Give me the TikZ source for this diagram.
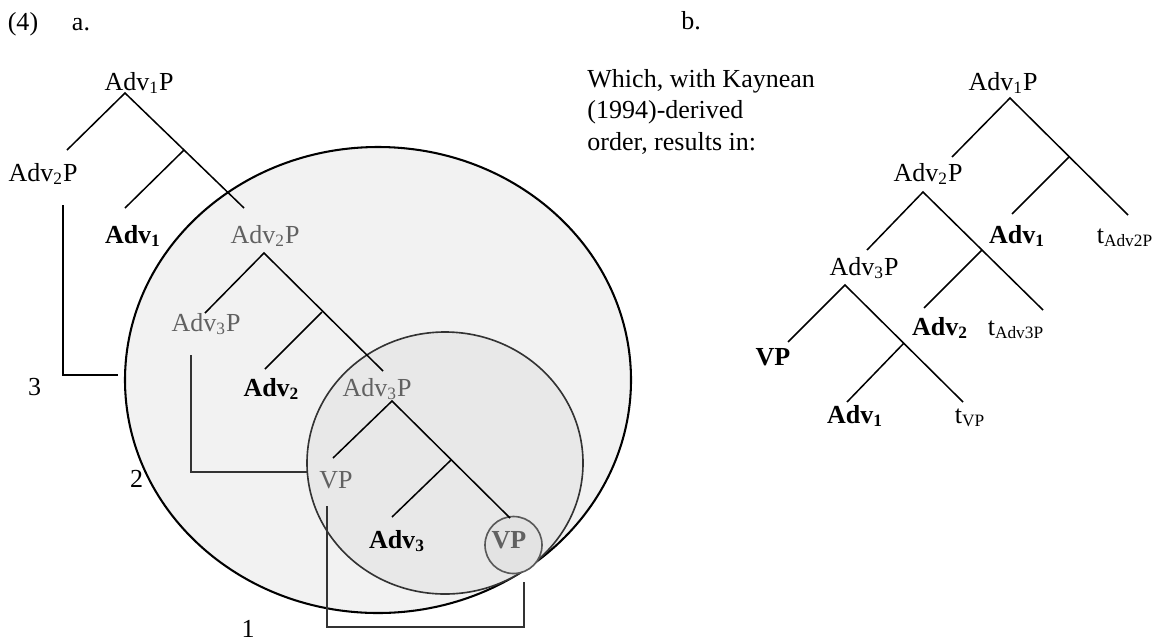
\documentclass[tikz,border=0pt]{standalone}
\usepackage{fontspec}
\setmainfont{Liberation Serif}
\usepackage{tikz}

\tikzset{
    lbl/.style={font=\fontsize{12}{14}\selectfont, inner sep=0pt, anchor=base},
    moved/.style={lbl, text=black!62},
    head/.style={lbl, font=\fontsize{12}{14}\selectfont\bfseries},
    movedhead/.style={head, text=black!62},
    branch/.style={line width=0.7pt},
    chain/.style={line width=0.7pt, draw=black!80},
}

\begin{document}
\begin{tikzpicture}[x=0.4615pt, y=-0.4615pt]
    \useasboundingbox (0,0) rectangle (1156,642);

    % Example number
    \node[lbl] (num) at (23,30) {(4)};
    \node[lbl] (parta) at (81,30) {a.};
    \node[lbl] (partb) at (691,29) {b.};

    % Movement domains
    \draw[line width=0.95pt, fill=black!5] (378,380) ellipse [x radius=253, y radius=233];
    \draw[line width=0.75pt, draw=black!80, fill=black!9] (445,463) ellipse [x radius=138, y radius=131];
    \draw[line width=0.75pt, draw=black!65, fill=black!11] (513.5,545) circle [radius=28.5];

    % Tree a: labels
    \node[lbl] (la-top) at (139,90) {Adv\textsubscript{1}P};
    \node[lbl] (la-spec) at (43,181) {Adv\textsubscript{2}P};
    \node[head] (la-adv1) at (133,243) {Adv\textsubscript{1}};
    \node[moved] (la-adv2p) at (265,243) {Adv\textsubscript{2}P};
    \node[moved] (la-adv3p) at (206,331) {Adv\textsubscript{3}P};
    \node[head] (la-adv2) at (271.5,396) {Adv\textsubscript{2}};
    \node[moved] (la-adv3pb) at (377,396) {Adv\textsubscript{3}P};
    \node[moved] (la-vp) at (336,488) {VP};
    \node[head] (la-adv3) at (397,548) {Adv\textsubscript{3}};
    \node[movedhead] (la-vpb) at (509,548) {VP};

    % Tree a: branch points
    \coordinate (la) at (125,93);
    \coordinate (la-l) at (67,150);
    \coordinate (la-j) at (184,150);
    \coordinate (la-r) at (244,208);
    \coordinate (la-m) at (125,208);
    \coordinate (lb) at (264,253);
    \coordinate (lb-l) at (205,313);
    \coordinate (lb-j) at (322,312);
    \coordinate (lb-r) at (383,371);
    \coordinate (lb-m) at (265,369);
    \coordinate (lc) at (392,401);
    \coordinate (lc-l) at (333,458);
    \coordinate (lc-j) at (451,460);
    \coordinate (lc-r) at (510,518);
    \coordinate (lc-m) at (392,517);

    % Tree a: branches
    \draw[branch] (la-l) -- (la) -- (la-r);
    \draw[branch] (la-j) -- (la-m);
    \draw[branch] (lb-l) -- (lb) -- (lb-r);
    \draw[branch] (lb-j) -- (lb-m);
    \draw[branch] (lc-l) -- (lc) -- (lc-r);
    \draw[branch] (lc-j) -- (lc-m);

    % Movement chains
    \coordinate (m3a) at (63,205);
    \coordinate (m3b) at (63,375);
    \coordinate (m3c) at (118,375);
    \coordinate (m2a) at (191,355);
    \coordinate (m2b) at (191,472);
    \coordinate (m2c) at (307,472);
    \coordinate (m1a) at (327,506);
    \coordinate (m1b) at (327,627);
    \coordinate (m1c) at (524,627);
    \coordinate (m1d) at (524,582);
    \draw[branch] (m3a) -- (m3b) -- (m3c);
    \draw[chain] (m2a) -- (m2b) -- (m2c);
    \draw[chain] (m1a) -- (m1b) -- (m1c) -- (m1d);
    \node[lbl] (step3) at (34.5,395) {3};
    \node[lbl] (step2) at (136.5,487) {2};
    \node[lbl] (step1) at (248,637) {1};

    % Tree b
    \node[lbl, anchor=base west] (kay1) at (587,87) {Which, with Kaynean};
    \node[lbl, anchor=base west] (kay2) at (587,118.5) {(1994)-derived};
    \node[lbl, anchor=base west] (kay3) at (587,150) {order, results in:};

    \node[lbl] (rb-top) at (1003,90) {Adv\textsubscript{1}P};
    \node[lbl] (rb-adv2p) at (928,181) {Adv\textsubscript{2}P};
    \node[head] (rb-adv1) at (1017,243) {Adv\textsubscript{1}};
    \node[lbl] (rb-t2) at (1125,243) {t\textsubscript{Adv2P}};
    \node[lbl] (rb-adv3p) at (864,275) {Adv\textsubscript{3}P};
    \node[head] (rb-adv2) at (940,335) {Adv\textsubscript{2}};
    \node[lbl] (rb-t3) at (1016,335) {t\textsubscript{Adv3P}};
    \node[head] (rb-vp) at (773,365) {VP};
    \node[head] (rb-adv1b) at (855,423) {Adv\textsubscript{1}};
    \node[lbl] (rb-tvp) at (970,423) {t\textsubscript{VP}};

    \coordinate (ra) at (1010,98);
    \coordinate (ra-l) at (952,157);
    \coordinate (ra-j) at (1069,157);
    \coordinate (ra-r) at (1128,215);
    \coordinate (ra-m) at (1012,214);
    \coordinate (rb) at (923,192);
    \coordinate (rb-l) at (867,250);
    \coordinate (rb-j) at (982,250);
    \coordinate (rb-r) at (1043,310);
    \coordinate (rb-m) at (924,308);
    \coordinate (rc) at (845,285);
    \coordinate (rc-l) at (788,342);
    \coordinate (rc-j) at (904,343);
    \coordinate (rc-r) at (963,402);
    \coordinate (rc-m) at (847,402);

    \draw[branch] (ra-l) -- (ra) -- (ra-r);
    \draw[branch] (ra-j) -- (ra-m);
    \draw[branch] (rb-l) -- (rb) -- (rb-r);
    \draw[branch] (rb-j) -- (rb-m);
    \draw[branch] (rc-l) -- (rc) -- (rc-r);
    \draw[branch] (rc-j) -- (rc-m);
\end{tikzpicture}
\end{document}
